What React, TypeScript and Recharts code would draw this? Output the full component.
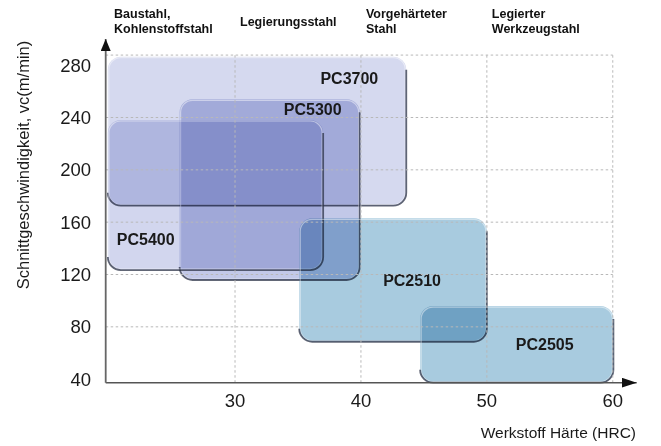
import { ComposedChart, XAxis, YAxis, ReferenceArea, ReferenceLine, Scatter } from 'recharts';

// Werkzeugsorten: Härtebereich (HRC) und Schnittgeschwindigkeit vc (m/min)
const grades = ['PC3700', 'PC5300', 'PC5400', 'PC2510', 'PC2505'];
const hrcFrom = [19.9, 25.6, 19.9, 35.1, 44.7];
const hrcTo = [43.6, 39.9, 37.0, 50.0, 60.05];
const vcFrom = [172.6, 115.8, 123.4, 68.6, 37.3];
const vcTo = [286.5, 253.9, 238.1, 162.9, 95.9];

const hrcTicks = [30, 40, 50, 60];
const vcTicks = [40, 80, 120, 160, 200, 240, 280];
const vcGrid = [80, 120, 160, 200, 240];
const hrcGrid = [30, 40, 50, 60];
const materialStart = [20, 30, 40, 50];
const materials = [
  ['Baustahl,', 'Kohlenstoffstahl'],
  ['Legierungsstahl'],
  ['Vorgehärteter', 'Stahl'],
  ['Legierter', 'Werkzeugstahl'],
];

const hrcDomain = [19.73, 61.9];
const vcDomain = [37.3, 300];
const fieldTop = 287.7;
const fieldRight = 60;

// box corners, only so the axes have data to work with
const corners = grades.flatMap((_, i) => [
  { hrc: hrcFrom[i], vc: vcFrom[i] },
  { hrc: hrcTo[i], vc: vcTo[i] },
]);

const FONT = '"Liberation Sans", Arial, sans-serif';
const boxColor = ['#d5d9ef', '#c2c8e8', '#d2d6ee', '#a8cbdf', '#a8cbdf'];

type Box = { x: number; y: number; width: number; height: number };
const labelPos = [
  (b: Box) => ({ x: b.x + b.width - 28, y: b.y + 22, anchor: 'end' }),
  (b: Box) => ({ x: b.x + b.width - 18, y: b.y + 10, anchor: 'end' }),
  (b: Box) => ({ x: b.x + 9, y: b.y + b.height - 31, anchor: 'start' }),
  (b: Box) => ({ x: b.x + b.width / 2 + 19, y: b.y + b.height / 2, anchor: 'middle' }),
  (b: Box) => ({ x: b.x + b.width / 2 + 28, y: b.y + b.height / 2, anchor: 'middle' }),
];

function GradeBox(props: any) {
  const { x, y, width, height, index } = props;
  const r = 13;
  const right = x + width;
  const bottom = y + height;
  const edge =
    `M${right},${y + r} L${right},${bottom - r} A${r},${r} 0 0 1 ${right - r},${bottom} ` +
    `L${x + r},${bottom} A${r},${r} 0 0 1 ${x},${bottom - r}`;
  const lp = labelPos[index]({ x, y, width, height });
  return (
    <g>
      <rect x={x} y={y} width={width} height={height} rx={r} ry={r}
        fill={boxColor[index]} style={{ mixBlendMode: 'multiply' }} />
      <rect x={x + 1} y={y + 1} width={width - 2} height={height - 2} rx={r - 1} ry={r - 1}
        fill="none" stroke="#fff" strokeOpacity={0.45} strokeWidth={1.2} />
      <path d={edge} fill="none" stroke="#2e3448" strokeWidth={1.8} strokeOpacity={0.75} />
      <text x={lp.x} y={lp.y} textAnchor={lp.anchor as any} dominantBaseline="central"
        fontSize={16} fontWeight="bold" fill="#1a1a1a">
        {grades[index]}
      </text>
    </g>
  );
}

function MaterialTick(props: any) {
  const { x, payload } = props;
  const lines = materials[materialStart.indexOf(payload.value)] || [];
  const y0 = lines.length === 1 ? 25.5 : 18;
  return (
    <text x={x + 5} y={y0} fontSize={12.5} fontWeight="bold" fill="#111" textAnchor="start">
      {lines.map((l, i) => (
        <tspan key={l} x={x + 5} dy={i === 0 ? 0 : 15}>{l}</tspan>
      ))}
    </text>
  );
}

export default function App() {
  return (
    <div style={{ position: 'absolute', left: 0, top: 0, width: 661, height: 446, fontFamily: FONT, background: '#fff' }}>
      <ComposedChart width={661} height={446} data={corners}
        margin={{ top: 9, right: 24.3, bottom: 33.3, left: 45.7 }}>
        <defs>
          <marker id="arrowX" viewBox="0 0 15 10" refX={15} refY={5} markerWidth={15} markerHeight={10}
            markerUnits="userSpaceOnUse" orient="auto">
            <path d="M0,0 L15,5 L0,10 z" fill="#111" />
          </marker>
          <marker id="arrowY" viewBox="0 0 12 10" refX={12} refY={5} markerWidth={12} markerHeight={10}
            markerUnits="userSpaceOnUse" orient="auto-start-reverse">
            <path d="M0,0 L12,5 L0,10 z" fill="#111" />
          </marker>
        </defs>
        <XAxis xAxisId="top" orientation="top" dataKey="hrc" type="number" domain={hrcDomain} allowDataOverflow
          ticks={materialStart} height={30} axisLine={false} tickLine={false} tick={<MaterialTick />} />
        <XAxis dataKey="hrc" type="number" domain={hrcDomain} allowDataOverflow ticks={hrcTicks} height={30}
          tickLine={false} tickMargin={5.5} tick={{ fontSize: 18.5, fill: '#1a1a1a' }}
          axisLine={{ stroke: '#555', strokeWidth: 1.5, markerEnd: 'url(#arrowX)' } as any} />
        <YAxis dataKey="vc" type="number" domain={vcDomain} allowDataOverflow ticks={vcTicks} width={60}
          tickLine={false} tickMargin={8.7} tick={{ fontSize: 18.5, fill: '#1a1a1a' }}
          axisLine={{ stroke: '#666', strokeWidth: 1.8, markerStart: 'url(#arrowY)' } as any} />

        {hrcGrid.map((h) => (
          <ReferenceLine key={'v' + h} segment={[{ x: h, y: vcDomain[0] }, { x: h, y: fieldTop }]}
            stroke="#b8b8b8" strokeDasharray="2.5 2.5" strokeWidth={1} />
        ))}
        {vcGrid.concat([fieldTop]).map((v) => (
          <ReferenceLine key={'h' + v} segment={[{ x: hrcDomain[0], y: v }, { x: fieldRight, y: v }]}
            stroke="#b8b8b8" strokeDasharray="2.5 2.5" strokeWidth={1} />
        ))}

        <Scatter dataKey="vc" fill="none" stroke="none" shape={() => <g />} isAnimationActive={false} />

        {grades.map((g, i) => (
          <ReferenceArea key={g} x1={hrcFrom[i]} x2={hrcTo[i]} y1={vcFrom[i]} y2={vcTo[i]}
            ifOverflow="visible"
            shape={(p: any) => <GradeBox {...p} index={i} />} />
        ))}

        <text x={636} y={432} textAnchor="end" dominantBaseline="central" fontSize={15.5} fill="#1a1a1a">
          Werkstoff Härte (HRC)
        </text>
        <text transform="translate(23,165) rotate(-90)" textAnchor="middle" dominantBaseline="central"
          fontSize={16.5} fill="#1a1a1a">
          Schnittgeschwindigkeit, vc(m/min)
        </text>
      </ComposedChart>
    </div>
  );
}
